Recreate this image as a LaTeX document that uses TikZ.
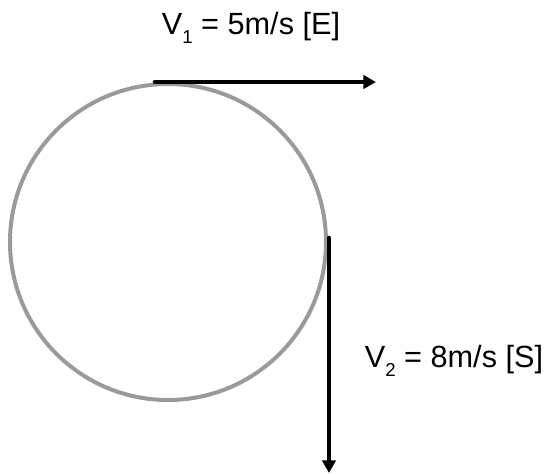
\documentclass[tikz,border=0pt]{standalone}
\usepackage{fontspec}
\setmainfont{Liberation Sans}
\usepackage{xcolor}
\definecolor{grisCirc}{HTML}{9A9A9A}
\usetikzlibrary{arrows.meta,positioning}
\newcommand{\velsub}[1]{\raisebox{-0.28em}{\fontsize{14}{14}\selectfont #1}}

\begin{document}
\begin{tikzpicture}[x=0.75pt,y=-0.75pt,
 vel/.style={-{Triangle[length=9.5pt,width=10pt]},line width=3.4pt,line cap=round},
 lbl/.style={font=\fontsize{23}{27}\selectfont,anchor=base,inner sep=0pt},
 orbit/.style={draw=grisCirc,line width=3pt}]
 \useasboundingbox (0,0) rectangle (551,474);
 \draw[orbit] (168,242) circle[radius=158];
 \coordinate (p1) at (155,82);
 \coordinate (q1) at (376,82);
 \coordinate (p2) at (329,238);
 \coordinate (q2) at (329,473);
 \node[lbl] (v1) at (251,35) {V\velsub{1} = 5m/s [E]};
 \node[lbl] (v2) at (454,368) {V\velsub{2} = 8m/s [S]};
 \draw[vel] (p1)--(q1);
 \draw[vel] (p2)--(q2);
\end{tikzpicture}
\end{document}
